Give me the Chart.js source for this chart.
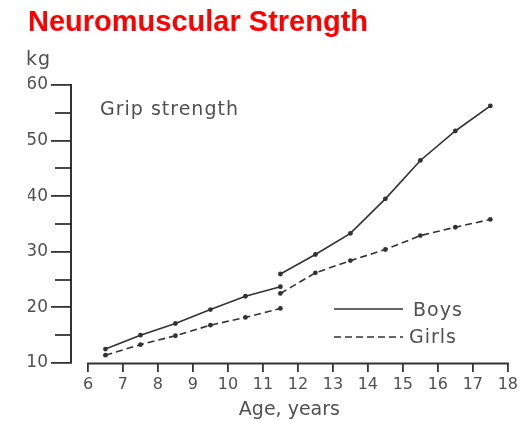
<!DOCTYPE html>
<html>
<head>
<meta charset="utf-8">
<script src="https://cdn.jsdelivr.net/npm/chart.js@4"></script>
<style>
  html, body { margin: 0; padding: 0; background: #fff; }
  #wrap { width: 521px; height: 421px; }
</style>
</head>
<body>
<div id="wrap"><canvas id="gripChart" width="521" height="421"></canvas></div>
<script>
// ages (years) - curves break at 11.5
const agesEarly = [6.5, 7.5, 8.5, 9.5, 10.5, 11.5];
const agesLate = [11.5, 12.5, 13.5, 14.5, 15.5, 16.5, 17.5];
// grip strength, kg
const boysEarly = [12.5, 15.0, 17.1, 19.6, 22.0, 23.7];
const boysLate = [26.0, 29.5, 33.3, 39.5, 46.4, 51.7, 56.2];
const girlsEarly = [11.4, 13.3, 14.9, 16.8, 18.2, 19.8];
const girlsLate = [22.5, 26.2, 28.4, 30.4, 32.9, 34.4, 35.8];
// axis ticks
const xTicks = [6, 7, 8, 9, 10, 11, 12, 13, 14, 15, 16, 17, 18];
const yLabels = [10, 20, 30, 40, 50, 60];
const yMinorTicks = [15, 25, 35, 45, 55];

const inkColor = '#333';
const textColor = '#505050';
const girlsDash = [7, 4];

function points(xs, ys){
    return xs.map((x, i) => ({x: x, y: ys[i]}));
}

function lineSet(label, xs, ys, dash){
    return {
        label: label,
        data: points(xs, ys),
        borderColor: inkColor,
        backgroundColor: inkColor,
        borderWidth: 1.6,
        borderDash: dash,
        pointRadius: 2.4,
        pointBorderWidth: 0,
        tension: 0
    };
}

// extra bits: x axis line, short y ticks, "kg", panel label, legend
const extras = {
    id: 'extras',
    afterDraw(chart){
        const ctx = chart.ctx;
        const x = chart.scales.x;
        const y = chart.scales.y;
        ctx.save();
        ctx.strokeStyle = inkColor;
        ctx.lineWidth = 2;
        ctx.beginPath();
        ctx.moveTo(x.getPixelForValue(xTicks[0]) - 1, y.bottom + 0.5);
        ctx.lineTo(x.getPixelForValue(xTicks[xTicks.length - 1]) + 1, y.bottom + 0.5);
        ctx.stroke();

        ctx.lineWidth = 1.8;
        yMinorTicks.forEach(v => {
            const py = Math.round(y.getPixelForValue(v));
            ctx.beginPath();
            ctx.moveTo(y.right - 16, py);
            ctx.lineTo(y.right, py);
            ctx.stroke();
        });

        ctx.fillStyle = textColor;
        ctx.letterSpacing = '1px';
        ctx.font = '19px "DejaVu Sans"';
        ctx.textAlign = 'left';
        ctx.textBaseline = 'alphabetic';
        ctx.fillText('kg', 26, 65);
        ctx.fillText('Grip strength', 100, 115);

        const legendItems = [
            {text: 'Boys', ds: chart.data.datasets[0], lineY: 309, textX: 413, textY: 316},
            {text: 'Girls', ds: chart.data.datasets[2], lineY: 337, textX: 409, textY: 343}
        ];
        legendItems.forEach(item => {
            ctx.strokeStyle = item.ds.borderColor;
            ctx.lineWidth = item.ds.borderWidth;
            ctx.setLineDash(item.ds.borderDash || []);
            ctx.beginPath();
            ctx.moveTo(334, item.lineY);
            ctx.lineTo(403, item.lineY);
            ctx.stroke();
            ctx.setLineDash([]);
            ctx.fillText(item.text, item.textX, item.textY);
        });
        ctx.restore();
    }
};

new Chart(document.getElementById('gripChart').getContext('2d'), {
    type: 'line',
    data: {
        datasets: [
            lineSet('Boys', agesEarly, boysEarly, []),
            lineSet('Boys', agesLate, boysLate, []),
            lineSet('Girls', agesEarly, girlsEarly, girlsDash),
            lineSet('Girls', agesLate, girlsLate, girlsDash)
        ]
    },
    options: {
        responsive: false,
        animation: false,
        layout: {
            padding: {left: 28, right: 12, top: 0, bottom: 0}
        },
        plugins: {
            legend: {display: false},
            tooltip: {enabled: false},
            title: {
                display: true,
                text: 'Neuromuscular Strength',
                align: 'start',
                color: '#ff0000',
                font: {family: '"Liberation Sans", Arial, sans-serif', size: 29, weight: 'bold'},
                padding: {top: 6, bottom: 44}
            }
        },
        scales: {
            x: {
                type: 'linear',
                min: 5.515,
                max: 18,
                afterBuildTicks: scale => {
                    scale.ticks = xTicks.map(v => ({value: v}));
                },
                afterFit: scale => {
                    scale.height = 58;
                },
                border: {display: false},
                grid: {
                    drawOnChartArea: false,
                    tickLength: 9,
                    tickColor: inkColor,
                    lineWidth: 1.8
                },
                ticks: {
                    autoSkip: false,
                    maxRotation: 0,
                    padding: 3,
                    color: textColor,
                    font: {family: '"DejaVu Sans"', size: 16}
                },
                title: {
                    display: true,
                    text: 'Age, years',
                    color: textColor,
                    font: {family: '"DejaVu Sans"', size: 19},
                    padding: {top: 0, bottom: 0}
                }
            },
            y: {
                min: 10,
                max: 60,
                afterBuildTicks: scale => {
                    scale.ticks = yLabels.concat(yMinorTicks)
                        .sort((a, b) => a - b)
                        .map(v => ({value: v}));
                },
                afterFit: scale => {
                    scale.width = 43;
                },
                border: {display: true, color: inkColor, width: 2},
                grid: {
                    drawOnChartArea: false,
                    tickLength: 20,
                    lineWidth: 1.8,
                    tickColor: c => (c.tick && yLabels.includes(c.tick.value)) ? inkColor : 'rgba(0,0,0,0)'
                },
                ticks: {
                    autoSkip: false,
                    padding: 3,
                    color: textColor,
                    font: {family: '"DejaVu Sans"', size: 17},
                    callback: v => yLabels.includes(v) ? v : ''
                }
            }
        }
    },
    plugins: [extras]
});
</script>
</body>
</html>
